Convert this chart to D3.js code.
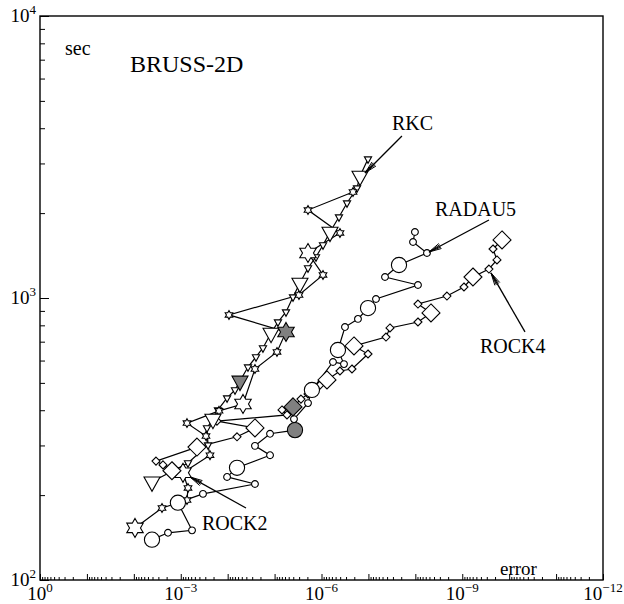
<!DOCTYPE html>
<html><head><meta charset="utf-8">
<script src="https://cdn.jsdelivr.net/npm/d3@7"></script>
<style>body{margin:0;background:#fff}</style>
</head><body>
<svg id="c" width="624" height="604"></svg>
<script>
// ---------- data (error, CPU seconds) ----------
const rkcErr  = [4.10e-3,7.01e-4,2.62e-4,2.76e-4,2.06e-4,1.61e-4,1.03e-4,6.98e-5,5.46e-5,3.69e-5,2.49e-5,1.77e-5,1.19e-5,8.47e-6,5.71e-6,4.05e-6,2.88e-6,1.94e-6,1.31e-6,9.29e-7,6.59e-7,4.24e-7,2.86e-7,1.75e-7,1.51e-7,1.02e-7];
const rkcTime = [223,260,301,346,372,401,442,472,508,569,618,665,751,822,892,1008,1130,1278,1398,1542,1714,1937,2172,2455,2708,3111];
const rkcBigErr  = [4.10e-3,2.06e-4,1.19e-5,2.88e-6,6.59e-7,1.51e-7];
const rkcBigTime = [223,372,751,1130,1714,2708];
const rkcRef = [5.46e-5,508];

const rock2Err  = [9.44e-3,2.51e-3,7.36e-4,7.01e-4,8.96e-4,2.38e-4,2.90e-4,7.36e-4,1.53e-4,4.71e-5,2.62e-5,8.89e-6,5.71e-6,9.37e-5,3.02e-6,9.29e-7,1.94e-6,4.04e-7,1.94e-6,2.13e-7];
const rock2Time = [153,180,192,212,240,277,324,360,398,421,560,644,758,871,1025,1207,1444,1701,2051,2376];
const rock2BigErr  = [9.44e-3,8.96e-4,4.71e-5,1.94e-6];
const rock2BigTime = [153,240,421,1444];
const rock2Ref = [5.71e-6,758];

const radauErr  = [4.10e-3,1.87e-3,5.75e-4,1.15e-3,3.36e-4,2.62e-5,1.03e-4,6.32e-5,1.25e-5,2.62e-5,1.25e-5,3.67e-6,3.86e-6,1.94e-6,1.60e-6,5.69e-7,3.32e-7,4.46e-7,3.16e-7,1.67e-7,1.02e-7,6.90e-8,8.79e-9,4.43e-8,2.23e-8,5.65e-9,1.12e-8,1.02e-8];
const radauTime = [139,147,150,188,202,219,232,250,277,299,330,340,372,424,472,593,583,654,789,843,921,992,1112,1187,1309,1444,1580,1714];
const radauBigErr  = [4.10e-3,1.15e-3,6.32e-5,1.60e-6,4.46e-7,1.02e-7,2.23e-8];
const radauBigTime = [139,188,250,472,654,921,1309];
const radauRef = [3.67e-6,340];

const rock4Err  = [1.54e-3,2.39e-3,3.37e-3,4.51e-4,6.32e-5,2.62e-5,1.69e-4,5.44e-6,6.95e-6,4.05e-6,2.74e-6,1.94e-6,1.08e-6,7.64e-7,4.04e-7,2.24e-7,1.02e-7,2.03e-7,4.22e-8,3.47e-8,8.79e-9,4.64e-9,8.79e-9,2.12e-9,9.19e-10,5.91e-10,2.70e-10,1.82e-10,2.21e-10,1.42e-10];
const rock4Time = [244,256,264,296,322,346,366,385,401,411,438,457,491,512,551,560,633,676,727,783,822,885,952,1016,1094,1187,1267,1364,1492,1606];
const rock4BigErr  = [1.54e-3,4.51e-4,2.62e-5,7.64e-7,2.03e-7,4.64e-9,5.91e-10,1.42e-10];
const rock4BigTime = [244,296,346,512,676,885,1187,1606];
const rock4Ref = [4.05e-6,411];

const xLabelExp = [0,-3,-6,-9,-12];
const yLabelExp = [2,3,4];

// annotations: [text, textErr, textTime, tailErr, tailTime, tipErr, tipTime]
const notes = [
  ["RKC",    3.15e-8, 3943, 1.93e-8, 3754, 1.18e-7, 2776],
  ["RADAU5", 3.81e-9, 1953, 2.70e-10,1891, 5.12e-9, 1456],
  ["ROCK4",  4.19e-10, 638, 4.60e-11, 758, 2.44e-10,1227],
  ["ROCK2",  3.53e-4,  150, 4.07e-5,  180, 6.35e-4,  232]
];
const texts = [["sec",0.293,7272,20],["BRUSS-2D",1.21e-2,6331,24],["error",1.57e-10,104.2,19]];

// ---------- drawing ----------
const svg = d3.select('#c');
const FONT = 'Liberation Serif';
const x = d3.scaleLog().domain([1,1e-12]).range([40,603]);
const y = d3.scaleLog().domain([100,1e4]).range([580,16]);

const decX = d3.range(0,-13,-1).map(e=>Math.pow(10,e));
const minX = [];
for (let e=-12;e<0;e++) for (let m=2;m<=9;m++) minX.push(m*Math.pow(10,e));
const decY = [100,1000,10000];
const minY = [];
for (let e=2;e<4;e++) for (let m=2;m<=9;m++) minY.push(m*Math.pow(10,e));

function tickAxis(gen, vals, size, tr){
  const g = svg.append('g').attr('transform',tr)
    .call(gen.tickValues(vals).tickSize(-size).tickFormat(''));
  g.select('.domain').remove();
  g.selectAll('line').attr('stroke','#000').attr('stroke-width',1);
}
tickAxis(d3.axisBottom(x), minX, 3, 'translate(0,580)');
tickAxis(d3.axisBottom(x), decX, 6, 'translate(0,580)');
tickAxis(d3.axisLeft(y), minY, 5, 'translate(40,0)');
tickAxis(d3.axisLeft(y), decY, 9, 'translate(40,0)');

svg.append('rect').attr('x',40).attr('y',16).attr('width',563).attr('height',564)
  .attr('fill','none').attr('stroke','#000').attr('stroke-width',1.4);

xLabelExp.forEach(e=>{
  const t = svg.append('text').attr('x',x(Math.pow(10,e))).attr('y',600)
    .attr('text-anchor','middle').attr('font-family',FONT).attr('font-size',19);
  t.append('tspan').text('10');
  t.append('tspan').attr('font-size',13).attr('dy',-8).text(e===0?'0':'\u2212'+(-e));
});
yLabelExp.forEach(e=>{
  const t = svg.append('text').attr('x',36).attr('y',y(Math.pow(10,e))+6)
    .attr('text-anchor','end').attr('font-family',FONT).attr('font-size',19);
  t.append('tspan').text('10');
  t.append('tspan').attr('font-size',13).attr('dy',-8).text(String(e));
});

function tri(s){ const h=s*1.8; return `M${-s},${-h/3}L${s},${-h/3}L0,${2*h/3}Z`; }
function dia(s){ return `M0,${-s}L${s},0L0,${s}L${-s},0Z`; }
function hex(R){ const r=R/Math.sqrt(3); let p=''; for(let k=0;k<12;k++){const a=(-90+k*30)*Math.PI/180, rr=k%2?r:R; p+=(k?'L':'M')+(rr*Math.cos(a)).toFixed(2)+','+(rr*Math.sin(a)).toFixed(2);} return p+'Z'; }
function circ(r){ return `M${r},0A${r},${r} 0 1,1 ${-r},0A${r},${r} 0 1,1 ${r},0Z`; }

const series = [
  {err:rkcErr,time:rkcTime,bE:rkcBigErr,bT:rkcBigTime,ref:rkcRef,sm:()=>tri(3.6),bg:()=>tri(8)},
  {err:rock2Err,time:rock2Time,bE:rock2BigErr,bT:rock2BigTime,ref:rock2Ref,sm:()=>hex(4.4),bg:()=>hex(9.5)},
  {err:radauErr,time:radauTime,bE:radauBigErr,bT:radauBigTime,ref:radauRef,sm:()=>circ(3.4),bg:()=>circ(7.6)},
  {err:rock4Err,time:rock4Time,bE:rock4BigErr,bT:rock4BigTime,ref:rock4Ref,sm:()=>dia(4),bg:()=>dia(9)}
];
const line = d3.line().x(d=>x(d[0])).y(d=>y(d[1]));
series.forEach(s=>{
  const pts = s.err.map((e,i)=>[e,s.time[i]]);
  svg.append('path').attr('d',line(pts)).attr('fill','none').attr('stroke','#000').attr('stroke-width',1.2);
});
series.forEach(s=>{
  const pts = s.err.map((e,i)=>[e,s.time[i]]);
  svg.append('g').selectAll('path').data(pts).join('path')
    .attr('transform',d=>`translate(${x(d[0])},${y(d[1])})`).attr('d',s.sm())
    .attr('fill','#fff').attr('stroke','#000').attr('stroke-width',1.1);
});
series.forEach(s=>{
  const big = s.bE.map((e,i)=>[e,s.bT[i]]);
  svg.append('g').selectAll('path').data(big).join('path')
    .attr('transform',d=>`translate(${x(d[0])},${y(d[1])})`).attr('d',s.bg())
    .attr('fill','#fff').attr('stroke','#000').attr('stroke-width',1.1);
  svg.append('path').attr('transform',`translate(${x(s.ref[0])},${y(s.ref[1])})`).attr('d',s.bg())
    .attr('fill','#808080').attr('stroke','#000').attr('stroke-width',1.1);
});

notes.forEach(n=>{
  svg.append('text').attr('x',x(n[1])).attr('y',y(n[2])).attr('font-family',FONT).attr('font-size',20).text(n[0]);
  const x1=x(n[3]),y1=y(n[4]),x2=x(n[5]),y2=y(n[6]);
  svg.append('line').attr('x1',x1).attr('y1',y1).attr('x2',x2).attr('y2',y2).attr('stroke','#000').attr('stroke-width',1.3);
  const a=Math.atan2(y1-y2,x1-x2);
  [-0.22,0.22,-0.1,0.1].forEach(da=>{
    svg.append('line').attr('x1',x2).attr('y1',y2)
      .attr('x2',x2+13*Math.cos(a+da)).attr('y2',y2+13*Math.sin(a+da))
      .attr('stroke','#000').attr('stroke-width',1);
  });
});
texts.forEach(t=>{
  svg.append('text').attr('x',x(t[1])).attr('y',y(t[2])).attr('font-family',FONT).attr('font-size',t[3]).text(t[0]);
});
</script>
</body></html>
